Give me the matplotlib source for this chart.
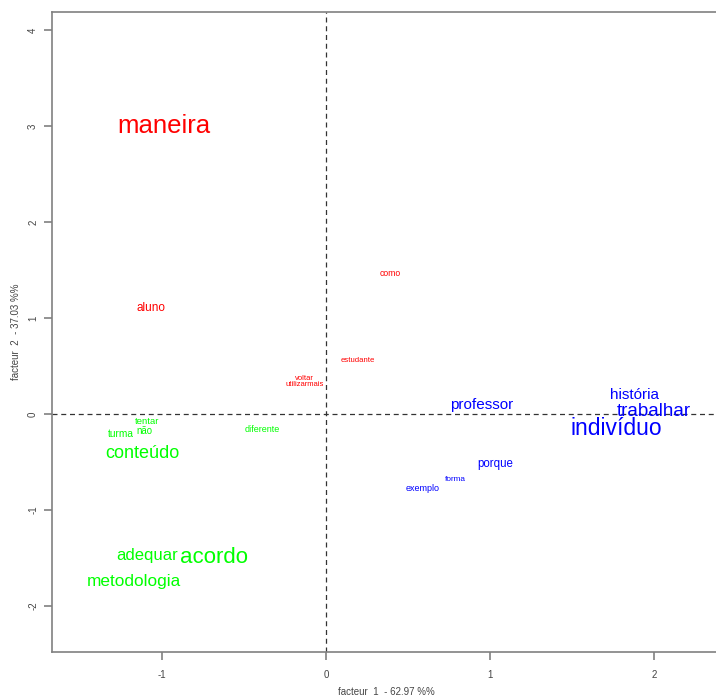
import matplotlib
matplotlib.use("Agg")
import matplotlib.pyplot as plt

plt.rcParams["font.family"] = ["Liberation Sans", "DejaVu Sans"]

# words of the factorial map, coordinates on factor 1 / factor 2
words = ["maneira", "aluno", "como", "estudante", "voltar", "utilizarmais",
         "professor", "história", "trabalhar", "indivíduo", "porque", "forma",
         "exemplo", "tentar", "não", "turma", "conteúdo", "diferente",
         "adequar", "acordo", "metodologia"]
f1 = [-0.99, -1.07, 0.39, 0.195, -0.13, -0.13,
      0.95, 1.88, 2.00, 1.77, 1.03, 0.79,
      0.59, -1.09, -1.11, -1.25, -1.12, -0.39,
      -1.09, -0.68, -1.17]
f2 = [3.00, 1.10, 1.46, 0.56, 0.375, 0.31,
      0.09, 0.20, 0.03, -0.15, -0.52, -0.68,
      -0.78, -0.08, -0.18, -0.21, -0.41, -0.16,
      -1.47, -1.50, -1.75]
sizes = [18.5, 8.5, 6.2, 5.6, 5.5, 5.5,
         11, 11, 13.5, 16.5, 8.3, 5.9,
         6.5, 6.8, 6.9, 7.3, 13, 6.5,
         12, 16, 12.4]
groups = ["r", "r", "r", "r", "r", "r",
          "b", "b", "b", "b", "b", "b",
          "b", "g", "g", "g", "g", "g",
          "g", "g", "g"]
group_colors = {"r": "#ff0000", "b": "#0000ff", "g": "#00ff00"}

xticks = [-1, 0, 1, 2]
yticks = [-2, -1, 0, 1, 2, 3, 4]

W, H = 716, 698
fig = plt.figure(figsize=(W / 100, H / 100), dpi=100)
ax = fig.add_axes([52 / W, (H - 652) / H, (W - 52 + 4) / W, (652 - 12) / H])

ax.set_xlim(-1.671, 2.403)
ax.set_ylim(-2.48, 4.19)

ax.axhline(0, color="#333333", linestyle=(0, (4, 3)), linewidth=0.9)
ax.axvline(0, color="#333333", linestyle=(0, (4, 3)), linewidth=0.9)

for w, x, y, s, g in zip(words, f1, f2, sizes, groups):
    ax.text(x, y, w, color=group_colors[g], fontsize=s, ha="center", va="center")

ax.set_xticks(xticks)
ax.set_yticks(yticks)
ax.set_xticklabels([str(t) for t in xticks], fontsize=7, color="#444444")
ax.set_yticklabels([str(t) for t in yticks], fontsize=7, color="#444444",
                   rotation=90, va="center")
ax.tick_params(axis="x", direction="out", length=6, width=1.2,
               color="#808080", pad=7)
ax.tick_params(axis="y", direction="out", length=6, width=1.2,
               color="#808080", pad=4)

for side in ["left", "bottom", "top"]:
    ax.spines[side].set_color("#808080")
    ax.spines[side].set_linewidth(1.2)
ax.spines["right"].set_visible(False)

ax.set_xlabel("facteur  1  - 62.97 %%", fontsize=7, color="#444444", labelpad=5)
ax.set_ylabel("facteur  2  - 37.03 %%", fontsize=7, color="#444444", labelpad=5)

fig.savefig("out.png", dpi=100)
